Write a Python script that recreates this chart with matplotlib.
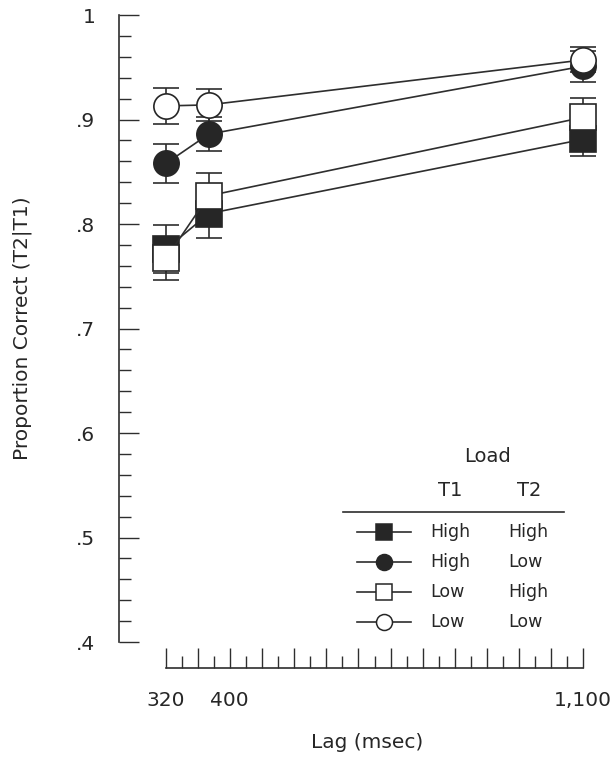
import matplotlib
matplotlib.use("Agg")
import matplotlib.pyplot as plt
import matplotlib.transforms as mtransforms
from matplotlib.lines import Line2D
from matplotlib.ticker import FixedLocator
import numpy as np

# ---------------- data ----------------
lags = [320, 400, 1100]
high_high = [0.776, 0.810, 0.881]
high_high_err = [0.023, 0.023, 0.016]
high_low = [0.858, 0.886, 0.951]
high_low_err = [0.019, 0.016, 0.015]
low_high = [0.767, 0.827, 0.902]
low_high_err = [0.021, 0.022, 0.019]
low_low = [0.913, 0.914, 0.957]
low_low_err = [0.017, 0.015, 0.012]

legend_t1 = ["High", "High", "Low", "Low"]
legend_t2 = ["High", "Low", "High", "Low"]

ytick_vals = [1.0, 0.9, 0.8, 0.7, 0.6, 0.5, 0.4]
ytick_labels = ["1", ".9", ".8", ".7", ".6", ".5", ".4"]
xtick_labels = ["320", "400", "1,100"]

# ---------------- layout ----------------
W, H = 615, 761
DPI = 100
INK = "#262626"
LINE = "#2e2e2e"

fig = plt.figure(figsize=(W / DPI, H / DPI), dpi=DPI)
fig.patch.set_facecolor("white")

ax_l, ax_r, ax_t, ax_b = 119, 598, 8, 668
ax = fig.add_axes([ax_l / W, 1 - ax_b / H, (ax_r - ax_l) / W, (ax_b - ax_t) / H])

# pixel anchors for axis range
x0_px, x1_px = 166, 583
y0_px, y1_px = 642, 15   # 0.4 and 1.0
xs = (x1_px - x0_px) / (1100 - 320)
ys = (y0_px - y1_px) / (1.0 - 0.4)
ax.set_xlim(320 - (x0_px - ax_l) / xs, 1100 + (ax_r - x1_px) / xs)
ax.set_ylim(0.4 - (ax_b - y0_px) / ys, 1.0 + (y1_px - ax_t) / ys)

for s in ["top", "right"]:
    ax.spines[s].set_visible(False)
ax.spines["left"].set_bounds(0.4, 1.0)
ax.spines["bottom"].set_bounds(320, 1100)
for s in ["left", "bottom"]:
    ax.spines[s].set_color(LINE)
    ax.spines[s].set_linewidth(1.2)

ax.yaxis.set_major_locator(FixedLocator(ytick_vals))
ax.set_yticklabels(ytick_labels)
ax.yaxis.set_minor_locator(FixedLocator(np.arange(0.42, 1.0, 0.02)))
ax.xaxis.set_major_locator(FixedLocator(np.arange(320, 1101, 60)))
ax.xaxis.set_minor_locator(FixedLocator(np.arange(350, 1100, 60)))
ax.set_xticklabels([])
ax.tick_params(which="major", direction="in", length=14.4, width=1.0, color=LINE)
ax.tick_params(which="minor", direction="in", length=8.6, width=1.0, color=LINE)
ax.tick_params(axis="y", which="major", pad=17, labelsize=14.5, labelcolor=INK)

# x tick labels (the "400" label sits slightly right in the original)
trans = mtransforms.blended_transform_factory(ax.transData, fig.transFigure)
offsets_px = [0, 21, 0]
for x, lbl, off in zip(lags, xtick_labels, offsets_px):
    t = mtransforms.offset_copy(trans, fig=fig, x=off, y=0, units="dots")
    ax.text(x, 1 - 700 / H, lbl, transform=t, ha="center", va="center",
            fontsize=14.5, color=INK, clip_on=False)

fig.text(22 / W, 1 - 328 / H, "Proportion Correct (T2|T1)", rotation=90,
         ha="center", va="center", fontsize=14.5, color=INK)
fig.text(367 / W, 1 - 743 / H, "Lag (msec)", ha="center", va="center",
         fontsize=14.5, color=INK)

# ---------------- series ----------------
series = [
    (high_high, high_high_err, "s", INK),
    (high_low, high_low_err, "o", INK),
    (low_high, low_high_err, "s", "white"),
    (low_low, low_low_err, "o", "white"),
]
MS = 18.2
for i, (vals, err, mk, fc) in enumerate(series):
    ax.errorbar(lags, vals, yerr=err, fmt="none", ecolor=LINE, elinewidth=1.2,
                capsize=9.4, capthick=1.2, zorder=2)
for i, (vals, err, mk, fc) in enumerate(series):
    ax.plot(lags, vals, color=LINE, lw=1.2, marker=mk, markersize=MS,
            markerfacecolor=fc, markeredgecolor=INK, markeredgewidth=1.2,
            zorder=3 + i, clip_on=False)

# ---------------- legend ----------------
def fx(px):
    return px / W

def fy(py):
    return 1 - py / H

fig.text(fx(488), fy(457), "Load", ha="center", va="center", fontsize=14, color=INK)
fig.text(fx(450), fy(490), "T1", ha="center", va="center", fontsize=14, color=INK)
fig.text(fx(529), fy(490), "T2", ha="center", va="center", fontsize=14, color=INK)
fig.add_artist(Line2D([fx(343), fx(564)], [fy(512), fy(512)], color=LINE, lw=1.2))

row_y = [532, 562, 592, 622]
for (vals, err, mk, fc), t1, t2, ry in zip(series, legend_t1, legend_t2, row_y):
    fig.add_artist(Line2D([fx(357), fx(411)], [fy(ry), fy(ry)], color=LINE, lw=1.2))
    fig.add_artist(Line2D([fx(384)], [fy(ry)], marker=mk, markersize=11.5,
                          markerfacecolor=fc, markeredgecolor=INK,
                          markeredgewidth=1.1, linestyle="none"))
    fig.text(fx(430), fy(ry), t1, ha="left", va="center", fontsize=12.5, color=INK)
    fig.text(fx(508), fy(ry), t2, ha="left", va="center", fontsize=12.5, color=INK)

fig.savefig("out.png", dpi=DPI, facecolor="white")
